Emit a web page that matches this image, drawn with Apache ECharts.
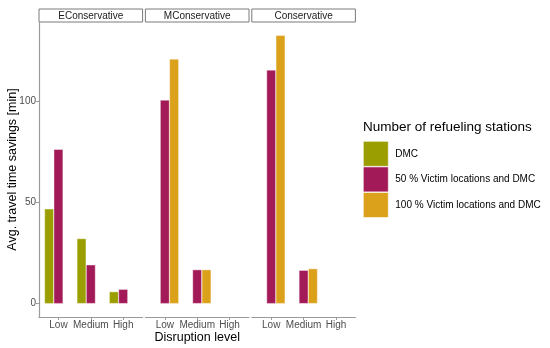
<!DOCTYPE html>
<html>
<head>
<meta charset="utf-8">
<script src="https://cdn.jsdelivr.net/npm/echarts@6/dist/echarts.min.js"></script>
<style>
html,body{margin:0;padding:0;background:#fff;}
#chart{width:550px;height:348px;}
</style>
</head>
<body>
<div id="chart"></div>
<script>
// ---- data ----
const categories = ['Low', 'Medium', 'High'];
const panelNames = ['EConservative', 'MConservative', 'Conservative'];
const seriesNames = ['DMC', '50 % Victim locations and DMC', '100 % Victim locations and DMC'];
const yTicks = [0, 50, 100];

const dmcE = [46.9, 32.2, 5.9];
const v50E = [76.4, 19.2, 7.1];
const v100E = [null, null, null];

const dmcM = [null, null, null];
const v50M = [100.8, 16.8, null];
const v100M = [121.1, 16.8, null];

const dmcC = [null, null, null];
const v50C = [115.7, 16.5, null];
const v100C = [132.8, 17.3, null];

const panelData = [[dmcE, v50E, v100E], [dmcM, v50M, v100M], [dmcC, v50C, v100C]];

// ---- style ----
const colors = ['#9b9e00', '#a31a58', '#dca11b'];
const FONT = 'Liberation Sans, Arial, sans-serif';
const yMin = -6.64, yMax = 139.44;
const panelLeft0 = 39, panelStep = 106.4, panelW = 103.6;
const plotTop = 22, plotH = 295;
const unit = panelW / 3.2;
const axisCol = '#9a9a9a';

const grid = [], xAxis = [], yAxis = [], series = [], graphic = [];

panelNames.forEach((pn, i) => {
  const L = panelLeft0 + i * panelStep;
  // frame grid (full panel, axis lines)
  grid.push({left: L, top: plotTop, width: panelW, height: plotH});
  // bar grid (category bands)
  grid.push({left: L + 0.1 * unit, top: plotTop, width: 3 * unit, height: plotH});
  const gA = 2 * i, gB = 2 * i + 1;

  xAxis.push({
    type: 'value', gridIndex: gA, min: 0, max: 1,
    axisLine: {show: true, onZero: false, lineStyle: {color: axisCol, width: 1.2}},
    axisTick: {show: false}, axisLabel: {show: false}, splitLine: {show: false}
  });
  xAxis.push({
    type: 'category', gridIndex: gB, data: categories,
    axisLine: {show: false, onZero: false},
    axisTick: {show: true, length: 3, alignWithLabel: true, lineStyle: {color: axisCol}},
    axisLabel: {color: '#4d4d4d', fontSize: 10, fontFamily: FONT, margin: 3, interval: 0, hideOverlap: false}
  });
  if (i === 0) {
    yAxis.push({
      type: 'value', gridIndex: gA, min: yMin, max: yMax,
      axisLine: {show: true, onZero: false, lineStyle: {color: axisCol, width: 1.2}},
      axisTick: {show: true, length: 3, customValues: yTicks, lineStyle: {color: axisCol}},
      axisLabel: {color: '#4d4d4d', fontSize: 10, fontFamily: FONT, margin: 3, customValues: yTicks},
      splitLine: {show: false}
    });
  } else {
    yAxis.push({type: 'value', gridIndex: gA, min: yMin, max: yMax, show: false, splitLine: {show: false}});
  }
  yAxis.push({type: 'value', gridIndex: gB, min: yMin, max: yMax, show: false, splitLine: {show: false}});

  seriesNames.forEach((sn, k) => {
    series.push({
      name: sn, type: 'bar', xAxisIndex: gB, yAxisIndex: gB,
      data: panelData[i][k],
      barGap: '0%', barCategoryGap: '14%',
      itemStyle: {color: colors[k], borderColor: '#ffffff', borderWidth: 0.4},
      emphasis: {disabled: true}
    });
  });

  // facet strip
  graphic.push({
    type: 'rect', shape: {x: L, y: 9, width: panelW, height: 13},
    style: {fill: '#ffffff', stroke: '#7a7a7a', lineWidth: 1}
  });
  graphic.push({
    type: 'text', x: L + panelW / 2, y: 15.8,
    style: {text: pn, fill: '#1a1a1a', font: '10px ' + FONT, align: 'center', verticalAlign: 'middle'}
  });
});

graphic.push({
  type: 'text', x: 13, y: plotTop + plotH / 2, rotation: Math.PI / 2,
  style: {text: 'Avg. travel time savings [min]', fill: '#000', font: '12.5px ' + FONT, align: 'center', verticalAlign: 'middle'}
});
graphic.push({
  type: 'text', x: panelLeft0 + (2 * panelStep + panelW) / 2, y: 338,
  style: {text: 'Disruption level', fill: '#000', font: '12.5px ' + FONT, align: 'center', verticalAlign: 'middle'}
});
graphic.push({
  type: 'text', x: 363, y: 127,
  style: {text: 'Number of refueling stations', fill: '#000', font: '13.5px ' + FONT, align: 'left', verticalAlign: 'middle'}
});

const chart = echarts.init(document.getElementById('chart'));
chart.setOption({
  animation: false,
  backgroundColor: '#ffffff',
  grid: grid, xAxis: xAxis, yAxis: yAxis, series: series, graphic: graphic,
  legend: {
    orient: 'vertical', left: 363, top: 141, padding: 0, itemGap: 0,
    itemWidth: 25, itemHeight: 25, icon: 'rect',
    data: seriesNames,
    itemStyle: {borderWidth: 0.6, borderColor: '#ffffff'},
    textStyle: {color: '#000', fontSize: 10, fontFamily: FONT, padding: [0, 0, 0, 2]},
    selectedMode: false
  }
});
</script>
</body>
</html>
